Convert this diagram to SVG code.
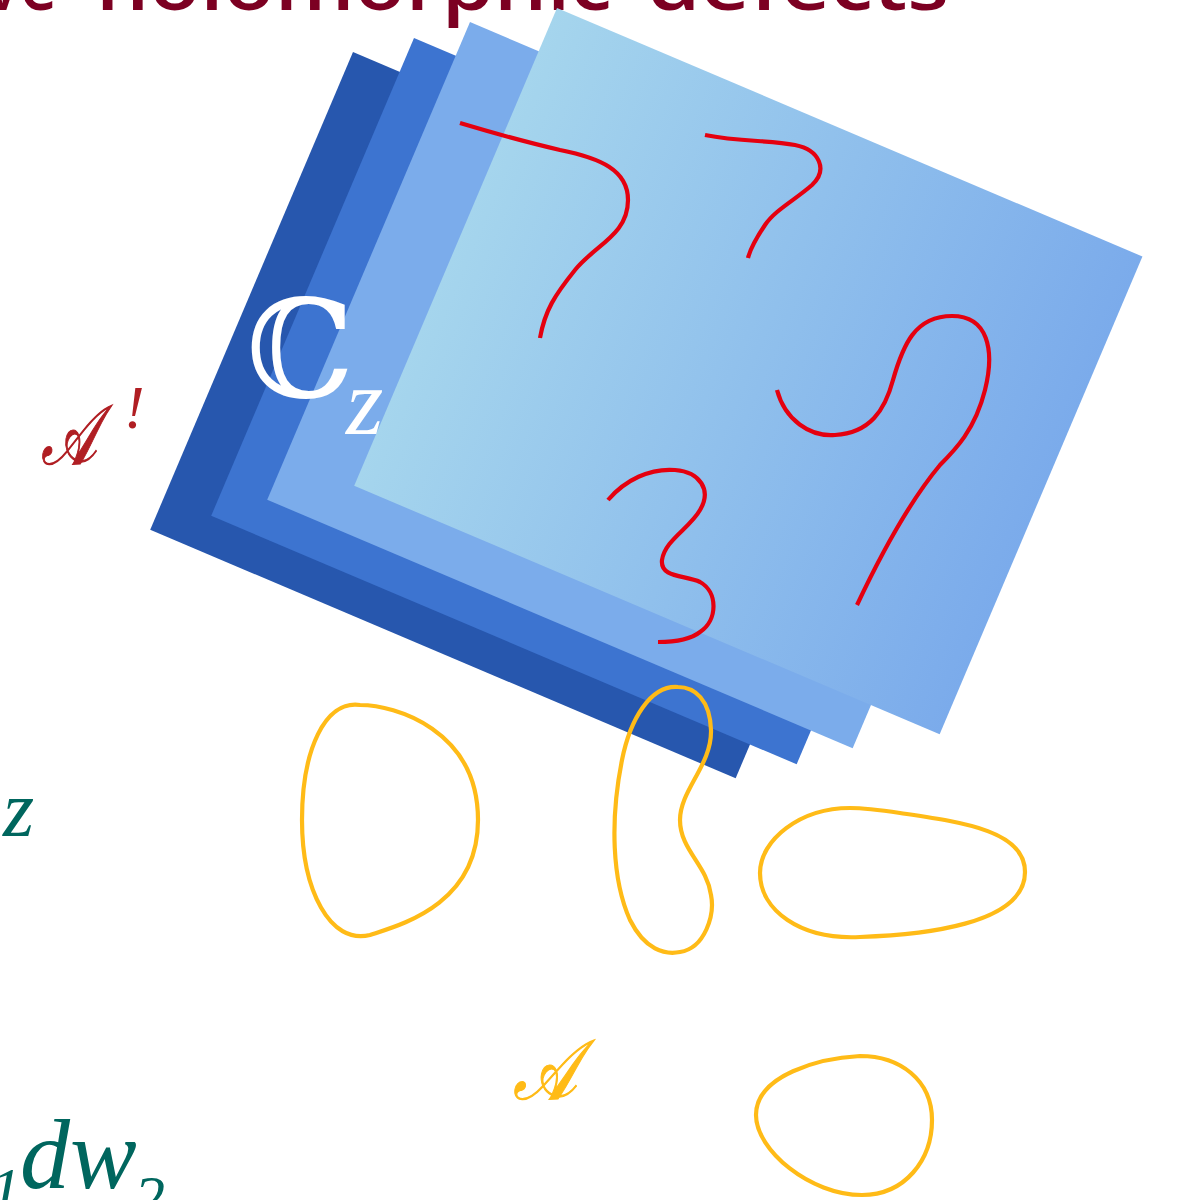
<svg xmlns="http://www.w3.org/2000/svg" width="1178" height="1200" viewBox="0 0 1178 1200">
<defs>
<linearGradient id="g4" x1="0" y1="0" x2="1" y2="0">
<stop offset="0" stop-color="#A5D5ED"/>
<stop offset="1" stop-color="#7BABEB"/>
</linearGradient>
<style>
.red{fill:none;stroke:#E5000F;stroke-width:4.2;stroke-linecap:butt}
.yel{fill:none;stroke:#FFBB17;stroke-width:4.2}
.title{font-family:"Open Sans","Liberation Sans",sans-serif;font-weight:600;font-size:74px;fill:#7C0022}
.serif{font-family:"Liberation Serif","DejaVu Serif",serif;font-style:italic}
.teal{fill:#00665E}
</style>
</defs>
<rect width="1178" height="1200" fill="#FFFFFF"/>
<g id="title">
<text class="title" y="9.5"><tspan x="-15" textLength="72" lengthAdjust="spacingAndGlyphs">ve</tspan><tspan x="96" textLength="516" lengthAdjust="spacingAndGlyphs">holomorphic</tspan><tspan x="647" textLength="302" lengthAdjust="spacingAndGlyphs">defects</tspan></text>
</g>
<g id="panels">
<rect id="panel1" x="0" y="0" width="636" height="519" fill="#2757AE" transform="translate(353,52) rotate(23)"/>
<rect id="panel2" x="0" y="0" width="636" height="519" fill="#3D74D0" transform="translate(414,38) rotate(23)"/>
<rect id="panel3" x="0" y="0" width="636" height="519" fill="#7BACEB" transform="translate(470,22) rotate(23)"/>
<rect id="panel4" x="0" y="0" width="636" height="519" fill="url(#g4)" transform="translate(557,8) rotate(23)"/>
</g>
<g id="red-curves">
<path class="red" d="M460,123 C500,135 530,143 560,150 C600,158 628,170 628,200 C628,235 595,245 575,270 C555,295 545,310 540,338"/>
<path class="red" d="M705,135 C740,142 770,140 795,145 C820,150 828,170 812,185 C795,200 775,210 765,225 C755,240 750,250 748,258"/>
<path class="red" d="M777,390 C785,420 810,437 835,435 C870,433 885,410 893,380 C903,345 915,316 952,316 C988,316 995,350 985,390 C975,430 955,450 940,465 C915,495 890,535 857,605"/>
<path class="red" d="M608,500 C625,480 650,468 675,470 C700,472 712,490 700,510 C690,528 665,540 662,560 C660,578 685,575 700,582 C718,592 718,620 700,632 C690,640 675,642 658,642"/>
</g>
<g id="yellow-loops">
<path class="yel" d="M360,705 C395,705 478,730 478,820 C478,905 400,925 370,935 C330,945 302,890 302,820 C302,750 325,700 360,705 Z"/>
<path class="yel" d="M678,687 C650,685 630,720 622,760 C610,820 612,880 630,920 C645,950 665,955 680,952 C705,948 715,915 711,895 C707,865 680,850 680,820 C680,790 712,765 711,730 C710,700 695,687 678,687 Z"/>
<path class="yel" d="M850,808 C800,808 760,840 760,873 C760,910 800,940 860,937 C920,935 1025,925 1025,872 C1025,830 960,822 900,813 C880,810 865,808 850,808 Z"/>
<path class="yel" d="M860,1056 C820,1058 756,1075 756,1115 C756,1150 810,1195 862,1195 C905,1195 932,1160 932,1120 C932,1080 900,1056 860,1056 Z"/>
</g>
<g id="label-Cz">
<text x="246" y="397" font-family="DejaVu Serif,Liberation Serif,serif" font-size="136" fill="#FFFFFF">ℂ</text>
<text class="serif" x="346" y="434" font-size="96" fill="#FFFFFF">z</text>
</g>
<g id="label-A-red">
<text class="serif" font-size="84" fill="#B01E23" stroke="#B01E23" stroke-width="1.2" transform="translate(41,464) scale(0.7,1)">𝒜</text>
<text class="serif" x="124" y="428" font-size="62" fill="#B01E23" font-style="normal">!</text>
</g>
<g id="label-z">
<text class="serif teal" x="3" y="836" font-size="80">z</text>
</g>
<g id="label-dw">
<text class="serif teal" x="-10" y="1210" font-size="62">1</text>
<text class="serif teal" x="20" y="1188" font-size="100">dw</text>
<text class="serif teal" x="134" y="1218" font-size="62">2</text>
</g>
<g id="label-A-yellow">
<text class="serif" font-size="84" fill="#FFBB17" stroke="#FFBB17" stroke-width="1.2" transform="translate(513,1099) scale(0.8,1)">𝒜</text>
</g>
</svg>
